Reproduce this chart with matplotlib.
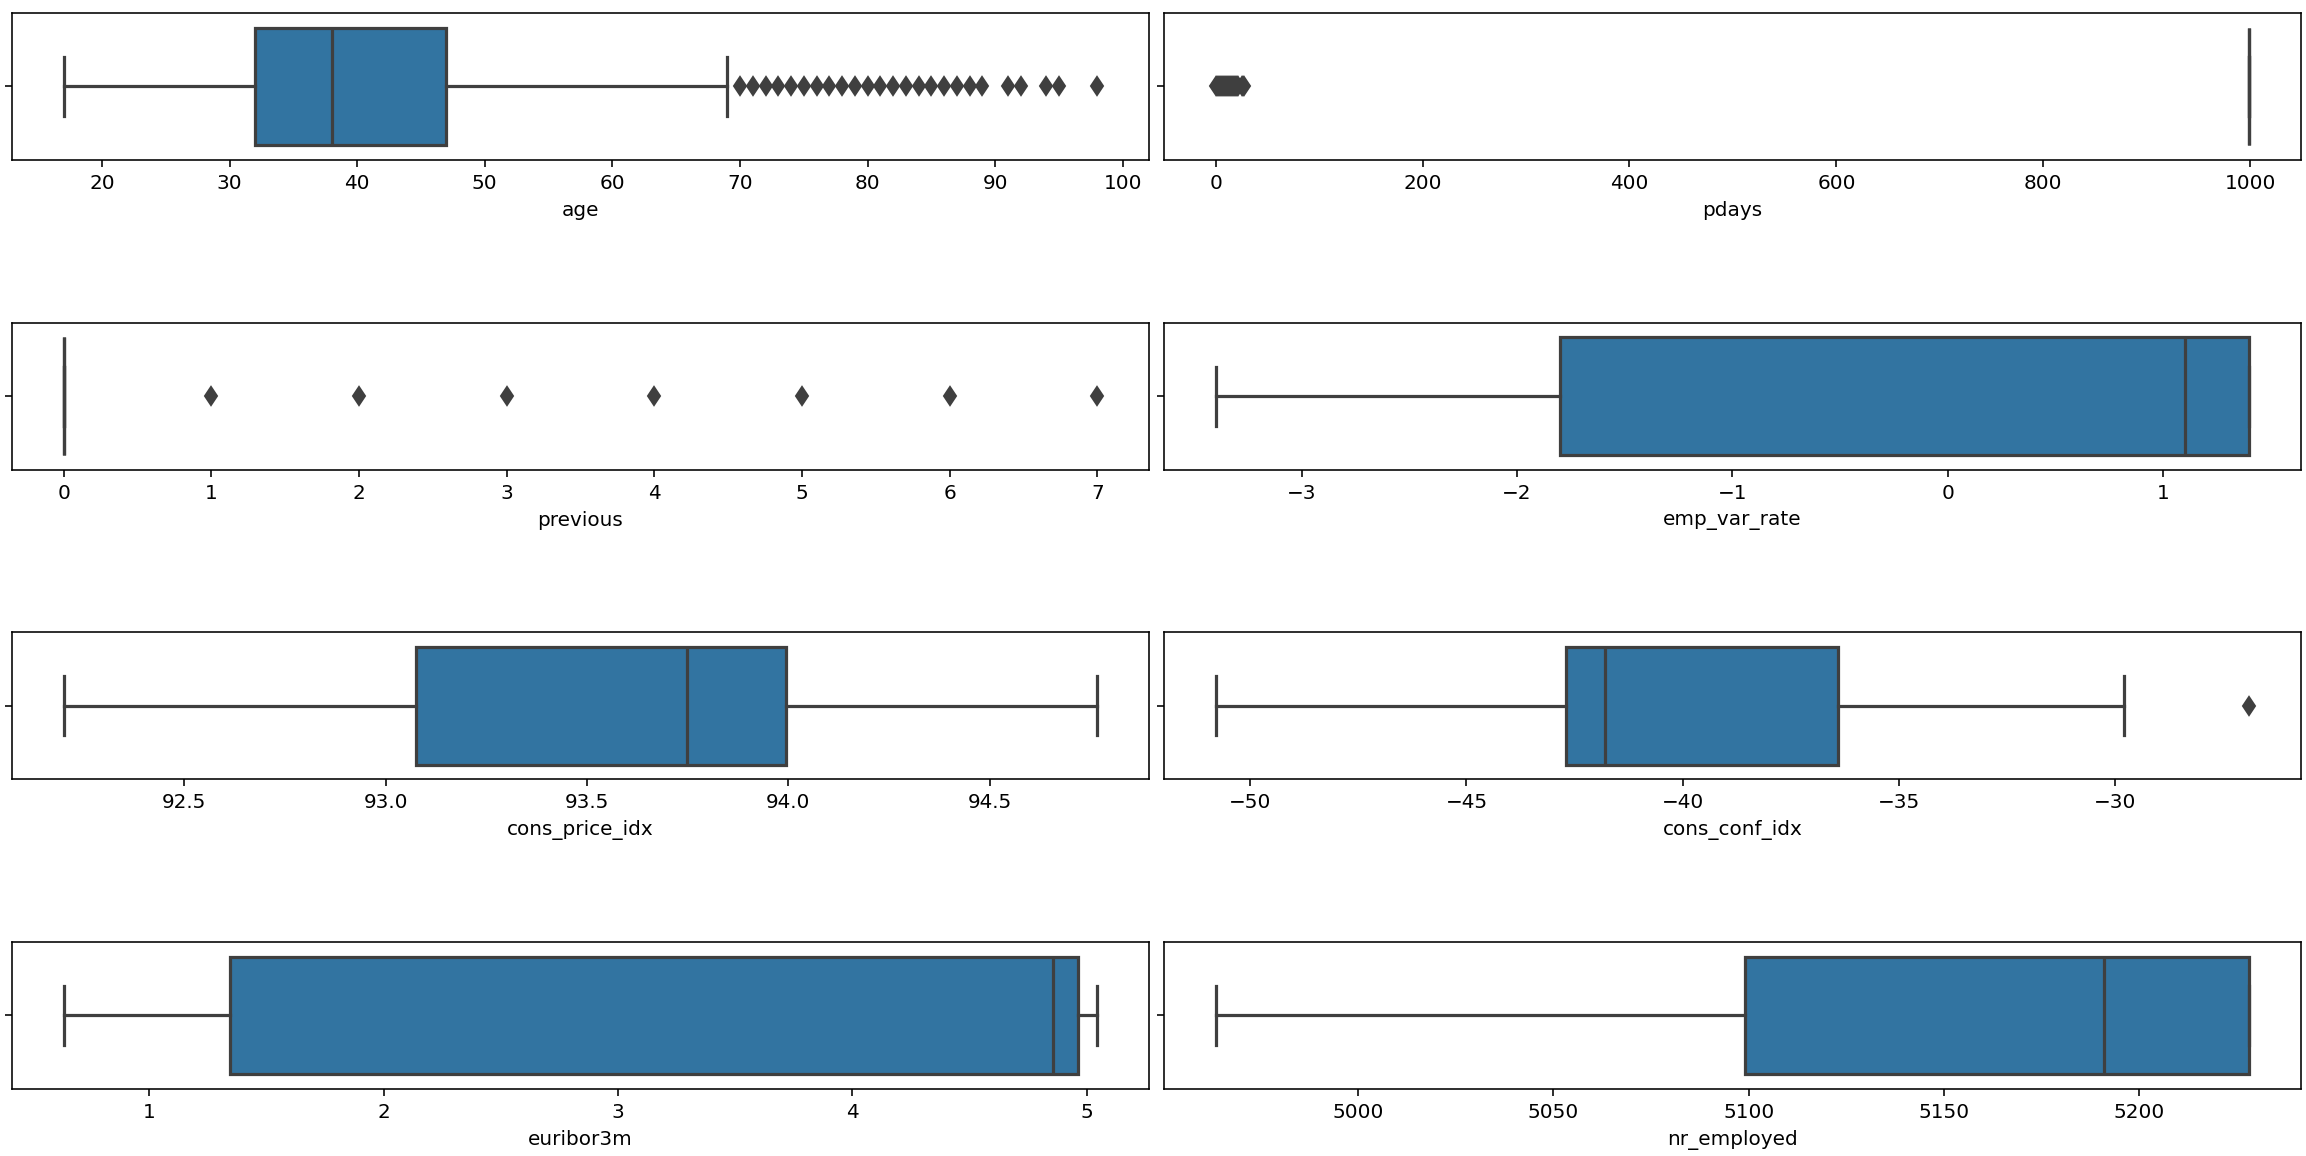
"""
Outlier overview: one horizontal box plot per numeric column of the bank marketing data.
Box statistics are taken off the reference chart and drawn with Axes.bxp.
"""

import matplotlib
matplotlib.use("Agg")  # headless
import matplotlib.pyplot as plt

COLUMNS = ["age", "pdays", "previous", "emp_var_rate",
           "cons_price_idx", "cons_conf_idx", "euribor3m", "nr_employed"]

WHIS_LO = [17, 999, 0, -3.4, 92.201, -50.8, 0.634, 4963.6]
Q1 = [32, 999, 0, -1.8, 93.075, -42.7, 1.344, 5099.1]
MEDIAN = [38, 999, 0, 1.1, 93.749, -41.8, 4.857, 5191.0]
Q3 = [47, 999, 0, 1.4, 93.994, -36.4, 4.961, 5228.1]
WHIS_HI = [69, 999, 0, 1.4, 94.767, -29.8, 5.045, 5228.1]

FLIERS = [
    list(range(70, 90)) + [91, 92, 94, 95, 98],   # age
    list(range(0, 23)) + [25, 26, 27],            # pdays
    [1, 2, 3, 4, 5, 6, 7],                        # previous
    [],                                           # emp_var_rate
    [],                                           # cons_price_idx
    [-26.9],                                      # cons_conf_idx
    [],                                           # euribor3m
    [],                                           # nr_employed
]

BOX_COLOR = "#3274a1"
LINE_GRAY = "#3f3f3f"
LW = 1.6


def main() -> None:
    fig, axes = plt.subplots(4, 2, figsize=(2306 / 144, 1156 / 144), dpi=144)
    fig.subplots_adjust(left=0.0052, right=0.9978, top=0.9888, bottom=0.058,
                        wspace=0.0132, hspace=1.107)

    for i, ax in enumerate(axes.flat):
        stats = [{
            "whislo": WHIS_LO[i], "q1": Q1[i], "med": MEDIAN[i],
            "q3": Q3[i], "whishi": WHIS_HI[i], "fliers": FLIERS[i],
        }]
        ax.bxp(
            stats, positions=[0], widths=0.8, orientation="horizontal",
            patch_artist=True, showfliers=True,
            boxprops=dict(facecolor=BOX_COLOR, edgecolor=LINE_GRAY, linewidth=LW),
            whiskerprops=dict(color=LINE_GRAY, linewidth=LW),
            capprops=dict(color=LINE_GRAY, linewidth=LW),
            medianprops=dict(color=LINE_GRAY, linewidth=LW),
            flierprops=dict(marker="d", markerfacecolor=LINE_GRAY,
                            markeredgecolor=LINE_GRAY, markersize=6.5),
        )
        ax.set_ylim(0.5, -0.5)
        ax.set_yticks([0])
        ax.set_yticklabels([""])
        ax.set_xlabel(COLUMNS[i])
        ax.margins(x=0.05)
        ax.autoscale(axis="x")

    fig.savefig("out.png", dpi=144)


if __name__ == "__main__":
    main()
